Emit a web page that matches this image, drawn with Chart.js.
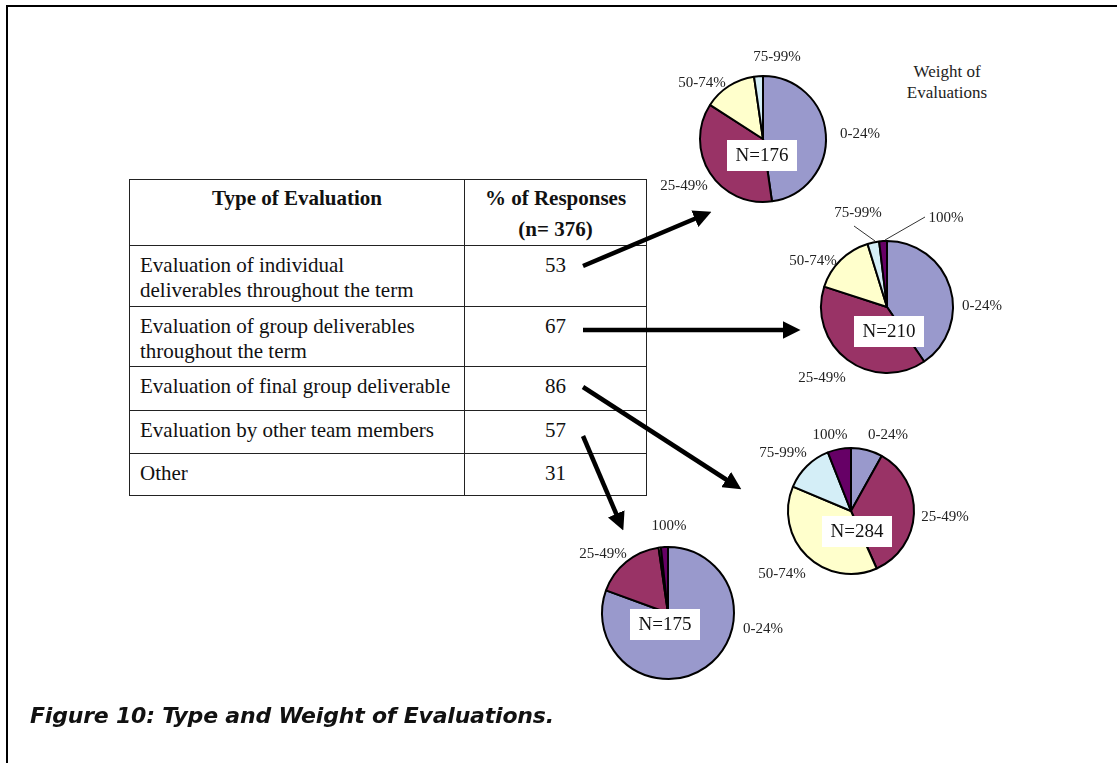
<!DOCTYPE html>
<html>
<head>
<meta charset="utf-8">
<script src="https://cdn.jsdelivr.net/npm/chart.js@4.4.1/dist/chart.umd.min.js"></script>
<style>
  body { margin: 0; background: #fff; }
  #page { position: relative; width: 1117px; height: 763px; overflow: hidden; font-family: "Liberation Serif", "Times New Roman", serif; }
  #frame { position: absolute; left: 6px; top: 5px; width: 1200px; height: 800px; border-top: 2px solid #000; border-left: 2px solid #000; }
  #evalTable { position: absolute; left: 129px; top: 179px; width: 518px; border-collapse: collapse; font-size: 21px; color: #111; }
  #evalTable td, #evalTable th { border: 1.5px solid #222; vertical-align: top; padding: 0 10px; line-height: 25px; }
  #evalTable th { font-weight: bold; line-height: 31px; padding-top: 3px; height: 62px; }
  #evalTable td.num { text-align: center; }
  .pie { position: absolute; }
  #weightTitle { position: absolute; left: 880px; top: 61px; width: 134px; text-align: center; font-size: 17px; line-height: 21px; color: #222; }
  #caption { position: absolute; left: 30px; top: 703px; font-family: "DejaVu Sans", sans-serif; font-weight: bold; font-style: italic; font-size: 22px; letter-spacing: -0.2px; color: #111; }
  svg { position: absolute; left: 0; top: 0; }
</style>
</head>
<body>
<div id="page">
  <div id="frame"></div>
  <table id="evalTable"></table>
  <div id="weightTitle">Weight of<br>Evaluations</div>
  <canvas id="pie1" class="pie" width="300" height="240"></canvas>
  <canvas id="pie2" class="pie" width="300" height="240"></canvas>
  <canvas id="pie3" class="pie" width="300" height="240"></canvas>
  <canvas id="pie4" class="pie" width="300" height="240"></canvas>
  <svg width="1117" height="763">
    <defs>
      <marker id="head" markerWidth="4" markerHeight="4" refX="1" refY="2" orient="auto" markerUnits="strokeWidth">
        <path d="M0,0 L4,2 L0,4 z" fill="#000"></path>
      </marker>
    </defs>
    <g id="arrows" stroke="#000" stroke-width="4.5"></g>
  </svg>
  <div id="caption">Figure 10: Type and Weight of Evaluations.</div>
</div>

<script>
// Table data
const evalTypes = [
    'Evaluation of individual<br>deliverables throughout the term',
    'Evaluation of group deliverables<br>throughout the term',
    'Evaluation of final group deliverable',
    'Evaluation by other team members',
    'Other'
];
const pctResponses = [53, 67, 86, 57, 31];
const rowHeights = [61, 60, 44, 43, 42];

// Pie data (weight of evaluations)
const weightLabels = ['0-24%', '25-49%', '50-74%', '75-99%', '100%'];
const pieColors = ['#9999CC', '#993366', '#FFFFCC', '#D4EEF7', '#660066'];
const individualCounts = [84, 64, 24, 4, 0];    // N=176
const groupCounts      = [85, 83, 32, 6, 4];    // N=210
const finalCounts      = [23, 100, 108, 36, 17]; // N=284
const peerCounts       = [141, 30, 1, 0, 3];    // N=175
const pieTotals = [176, 210, 284, 175];

// Build table
function buildTable() {
    const t = document.getElementById('evalTable');
    let html = '<tr><th style="width:314px">Type of Evaluation</th><th>% of Responses<br>(n= 376)</th></tr>';
    evalTypes.forEach((label, i) => {
        html += `<tr style="height:${rowHeights[i]}px"><td style="padding-top:7px">${label}</td><td class="num" style="padding-top:7px">${pctResponses[i]}</td></tr>`;
    });
    t.innerHTML = html;
}

// Arrows from table to pies
function buildArrows() {
    const g = document.getElementById('arrows');
    const arrows = [
        [583, 266, 699, 217],
        [583, 330, 787, 330],
        [583, 387, 730, 482],
        [583, 436, 618, 518]
    ];
    arrows.forEach(a => {
        const l = document.createElementNS('http://www.w3.org/2000/svg', 'line');
        l.setAttribute('x1', a[0]); l.setAttribute('y1', a[1]);
        l.setAttribute('x2', a[2]); l.setAttribute('y2', a[3]);
        l.setAttribute('marker-end', 'url(#head)');
        g.appendChild(l);
    });
}

// Label plugin: slice labels, leader lines and N= box
const pieLabels = {
    id: 'pieLabels',
    afterDatasetsDraw(chart, args, opts) {
        const ctx = chart.ctx;
        const arc = chart.getDatasetMeta(0).data[0];
        const cx = arc.x, cy = arc.y;
        ctx.save();
        ctx.fillStyle = '#222';
        ctx.font = '15px "Liberation Serif"';
        ctx.textAlign = 'center';
        ctx.textBaseline = 'middle';
        weightLabels.forEach((lab, i) => {
            const off = opts.offsets[i];
            if (!off) return;
            ctx.fillText(lab, cx + off[0], cy + off[1]);
        });
        ctx.strokeStyle = '#333';
        ctx.lineWidth = 1;
        (opts.leaders || []).forEach(l => {
            ctx.beginPath();
            ctx.moveTo(cx + l[0], cy + l[1]);
            ctx.lineTo(cx + l[2], cy + l[3]);
            ctx.stroke();
        });
        // N= box
        const b = opts.box;
        ctx.fillStyle = '#fff';
        ctx.fillRect(cx + b[0] - 35, cy + b[1] - 15, 70, 31);
        ctx.fillStyle = '#111';
        ctx.font = '19px "Liberation Serif"';
        ctx.fillText('N=' + opts.total, cx + b[0], cy + b[1] + 1);
        ctx.restore();
    }
};

function makePie(id, counts, total, cx, cy, r, layout) {
    const el = document.getElementById(id);
    el.style.left = (cx - 150) + 'px';
    el.style.top = (cy - 120) + 'px';
    const padV = 120 - r - 1, padH = 150 - r - 1;
    new Chart(el, {
        type: 'pie',
        data: {
            labels: weightLabels,
            datasets: [{
                data: counts,
                backgroundColor: pieColors,
                borderColor: '#000',
                borderWidth: 2
            }]
        },
        options: {
            responsive: false,
            animation: false,
            events: [],
            layout: { padding: { top: padV, bottom: padV, left: padH, right: padH } },
            plugins: {
                legend: { display: false },
                tooltip: { enabled: false },
                pieLabels: Object.assign({ total: total }, layout)
            }
        },
        plugins: [pieLabels]
    });
}

window.addEventListener('DOMContentLoaded', () => {
    buildTable();
    buildArrows();
    makePie('pie1', individualCounts, pieTotals[0], 763, 139, 63, {
        offsets: [[97, -5], [-79, 47], [-61, -56], [14, -82], null],
        box: [-1, 16]
    });
    makePie('pie2', groupCounts, pieTotals[1], 887, 307, 66, {
        offsets: [[95, -1], [-65, 71], [-74, -46], [-29, -94], [59, -89]],
        leaders: [[-33, -81, -12, -66], [38, -90, -2, -67]],
        box: [2, 24]
    });
    makePie('pie3', finalCounts, pieTotals[2], 851, 511, 63, {
        offsets: [[37, -76], [94, 6], [-69, 63], [-68, -58], [-21, -76]],
        box: [6, 20]
    });
    makePie('pie4', peerCounts, pieTotals[3], 668, 613, 66, {
        offsets: [[95, 16], [-65, -59], null, null, [1, -87]],
        box: [-3, 11]
    });
});
</script>
</body>
</html>
